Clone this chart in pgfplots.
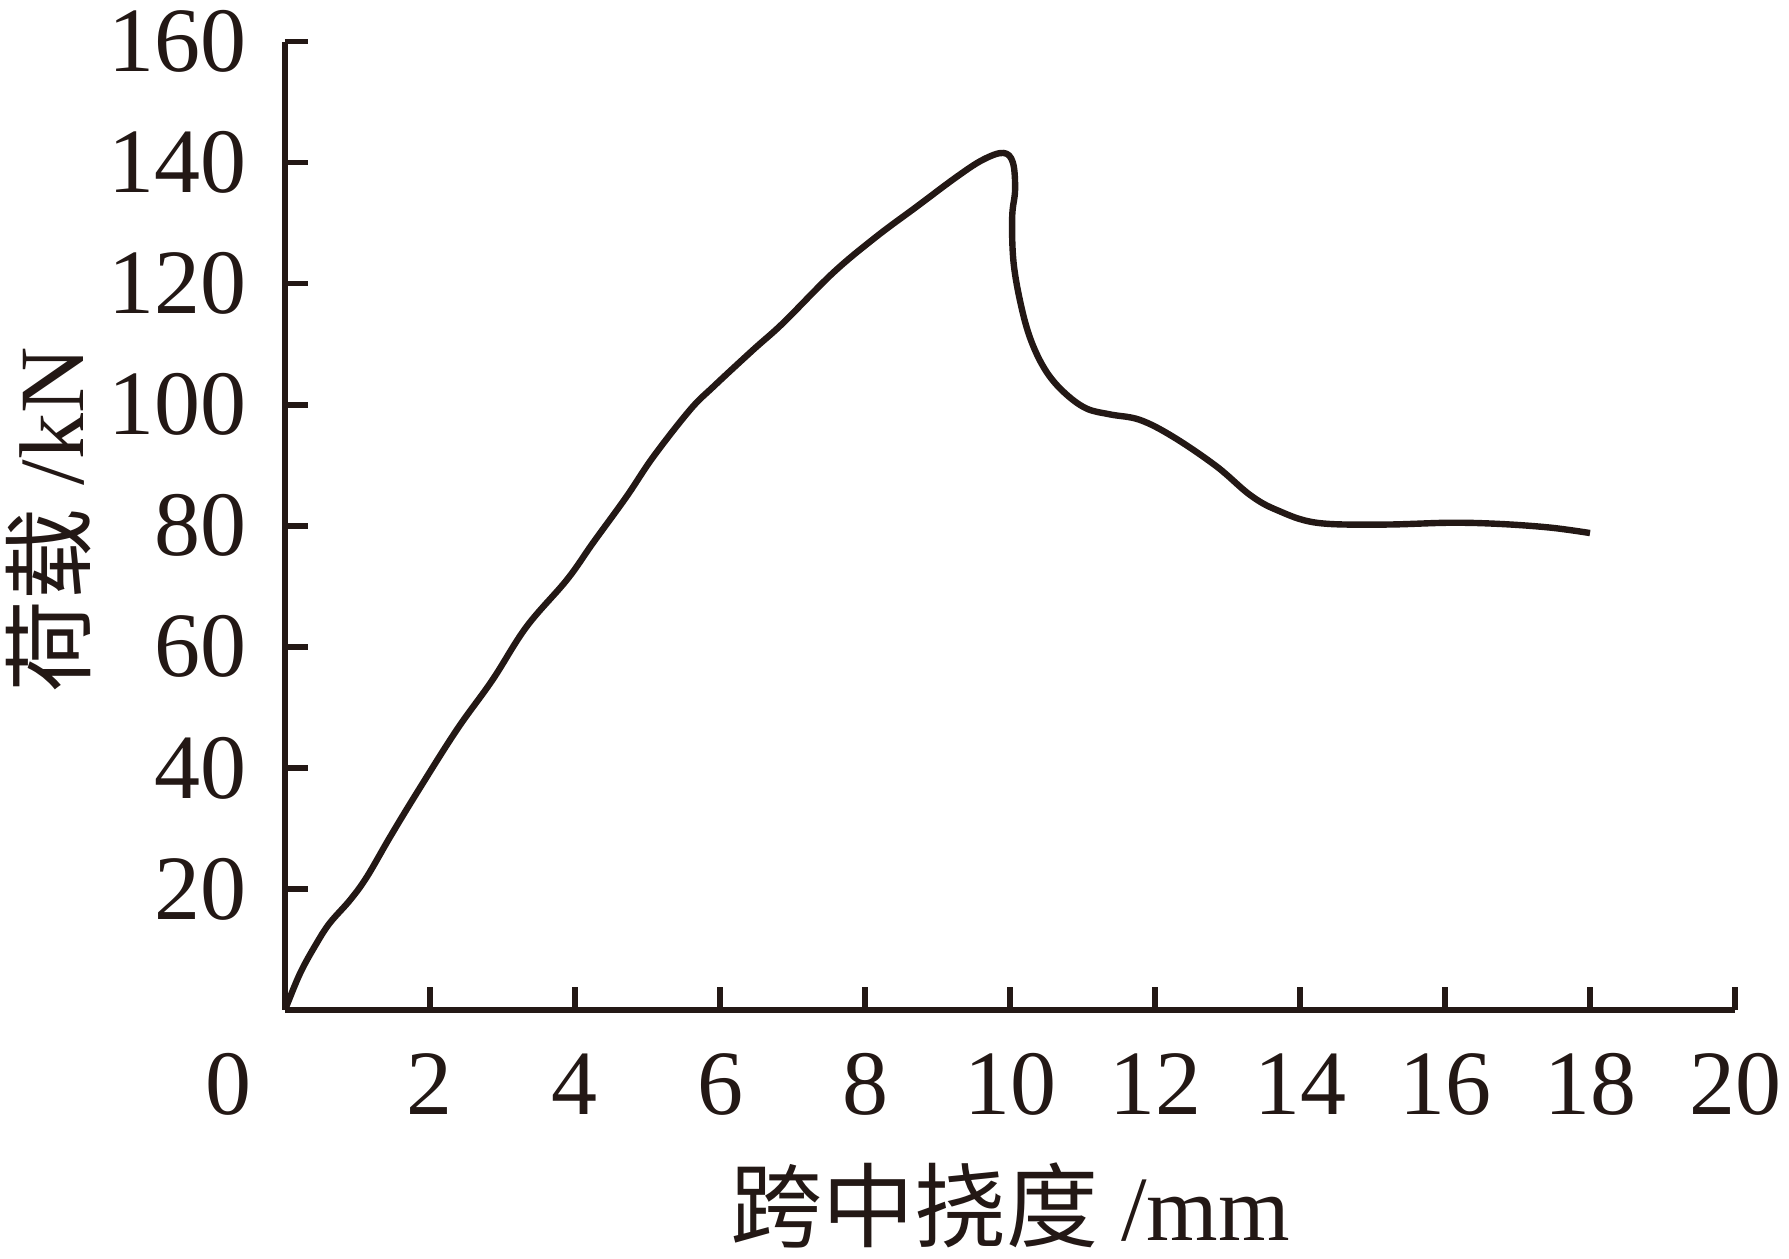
\documentclass[border=0pt]{standalone}
\usepackage{fontspec}
\setmainfont{Liberation Serif}
\newfontfamily\cjk{Noto Sans CJK SC}
\usepackage{pgfplots}
\pgfplotsset{compat=1.18}
\definecolor{ink}{HTML}{231815}
\begin{document}
\begin{tikzpicture}
\begin{axis}[
  at={(0,0)}, anchor=south west,
  scale only axis, width=362.5pt, height=242.1pt,
  xmin=0, xmax=20, ymin=0, ymax=160,
  axis lines=left,
  axis line style={-, line width=1.4pt, color=ink},
  xtick={2,4,...,20}, ytick={20,40,...,160},
  extra x ticks={0},
  extra x tick style={major tick length=0pt, xticklabel style={xshift=-14pt}},
  tick align=inside, major tick length=5.75pt,
  tick style={line width=1.4pt, color=ink},
  tick label style={font=\fontsize{23}{27}\selectfont, text=ink},
  /pgf/number format/assume math mode=true,
  xticklabel style={inner sep=0pt, anchor=north, yshift=-10.75pt},
  yticklabel style={inner sep=0pt, anchor=east, xshift=-9.5pt},
  xlabel={{\cjk 跨中挠度} /mm},
  ylabel={{\cjk 荷载} /kN},
  xlabel style={at={(axis description cs:0.5,-0.2024)}, anchor=center, font=\fontsize{23}{27}\selectfont, text=ink, inner sep=0pt},
  ylabel style={at={(axis description cs:-0.163,0.506)}, anchor=center, font=\fontsize{23}{27}\selectfont, text=ink, inner sep=0pt},
]
\addplot[ink, line width=1.6pt, smooth, tension=0.6, line join=round] coordinates {
(0,0) (0.21,6.1) (0.44,11.1) (0.62,14.4) (0.90,18.2) (1.13,22.0) (1.45,28.6)
(1.82,35.9) (2.37,46.3) (2.86,54.5) (3.33,63.3) (3.89,71.1) (4.25,77.2)
(4.71,84.8) (5.08,91.4) (5.59,99.2) (5.91,103.0) (6.46,109.1) (6.87,113.5)
(7.56,121.8) (8.16,127.8) (8.71,132.7) (9.27,137.7) (9.63,140.5) (9.91,141.6)
(10.04,140.0) (10.07,135.5) (10.03,131.0) (10.05,123.4) (10.16,116.0)
(10.30,110.3) (10.50,105.5) (10.75,102.0) (11.05,99.4) (11.38,98.4)
(11.79,97.5) (12.25,94.7) (12.85,89.8) (13.31,85.1) (13.68,82.6) (14.23,80.5)
(15.14,80.2) (16.07,80.5) (16.76,80.3) (17.45,79.7) (18.0,78.8)
};
\end{axis}
\pgfresetboundingbox
\path (-71.25pt,-62.25pt) rectangle (376pt,252.5pt);
\end{tikzpicture}
\end{document}
